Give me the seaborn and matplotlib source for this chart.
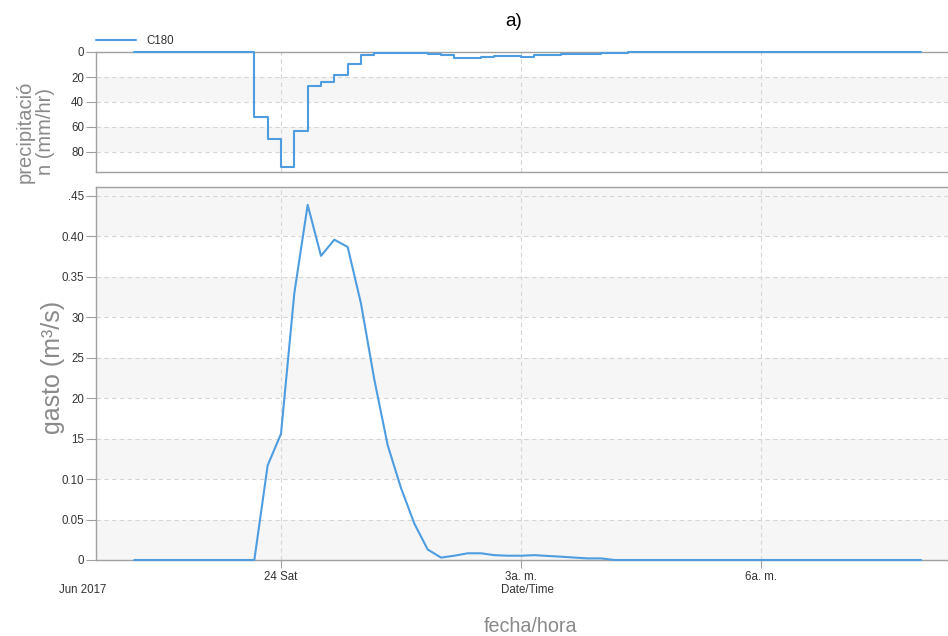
import numpy as np
import pandas as pd
import matplotlib
matplotlib.use("Agg")
import matplotlib.pyplot as plt
import seaborn as sns

# ---------------- data ----------------
# minutes relative to 24 Jun 2017 00:00 (10-minute records)
minutes = list(range(-110, 481, 10))

precip = [0, 0, 0, 0, 0, 0, 0, 0, 0,
          52, 70, 92, 63, 27, 24, 18.4, 9.6, 2.4, 1.1,
          0.8, 0.8, 0.8, 1.6, 2.5, 4.5, 4.5, 3.7, 3.2, 3.2,
          4.0, 2.4, 2.4, 1.6, 1.6, 1.6, 1.0, 1.0,
          0, 0, 0, 0, 0, 0, 0, 0, 0, 0, 0, 0, 0, 0, 0, 0, 0, 0, 0, 0, 0, 0, 0]

flow = [0, 0, 0, 0, 0, 0, 0, 0, 0, 0,
        0.117, 0.156, 0.330, 0.439, 0.376, 0.396, 0.387, 0.317, 0.223,
        0.142, 0.089, 0.045, 0.013, 0.003, 0.0053, 0.0083, 0.0083, 0.006,
        0.0053, 0.0053, 0.006, 0.005, 0.0041, 0.003, 0.002, 0.002,
        0, 0, 0, 0, 0, 0, 0, 0, 0, 0, 0, 0, 0, 0, 0, 0, 0, 0, 0, 0, 0, 0, 0, 0]

series_name = "C180"
x_tick_hours = [0, 3, 6]
x_tick_labels = ["24 Sat", "3a. m.", "6a. m."]
p_ticks = [0, 20, 40, 60, 80]
q_ticks = [0, 0.05, 0.10, 0.15, 0.20, 0.25, 0.30, 0.35, 0.40, 0.45]
q_tick_labels = ["0", "0.05", "0.10", "15", "20", "25", "30", "0.35", "0.40", ".45"]

df = pd.DataFrame({"hours": np.array(minutes) / 60.0, "precip": precip, "flow": flow})

# ---------------- style ----------------
sns.set_style("white")
plt.rcParams["font.family"] = ["Liberation Sans", "DejaVu Sans"]

LINE = "#4d9de0"
GRID = "#d6d6d6"
BAND = "#f6f6f6"
SPINE = "#a0a0a0"
TICKC = "#333333"
LABC = "#8a8a8a"

W, H = 948, 636
fig = plt.figure(figsize=(W / 100, H / 100), dpi=100)

def fx(px):
    return px / W

def fy(py):
    return 1 - py / H

left, right = 96, 948
ax_p = fig.add_axes([fx(left), fy(172), fx(right - left), fy(52) - fy(172)])
ax_q = fig.add_axes([fx(left), fy(560), fx(right - left), fy(187) - fy(560)])

xlim = ((96 - 281) / 80.0, (948 - 281) / 80.0)

# ---- precipitation panel ----
for lo, hi in [(20, 40), (60, 80)]:
    ax_p.axhspan(lo, hi, color=BAND, zorder=0, lw=0)
sns.lineplot(data=df, x="hours", y="precip", ax=ax_p, color=LINE, lw=1.5,
             drawstyle="steps-post", label=series_name, legend=False, zorder=3,
             clip_on=False)
ax_p.set_xlim(*xlim)
ax_p.set_ylim(96, 0)
ax_p.set_yticks(p_ticks)
ax_p.set_yticklabels([str(v) for v in p_ticks])
ax_p.set_xticks(x_tick_hours)
ax_p.set_xticklabels([])
ax_p.tick_params(axis="x", length=0)
for v in p_ticks[1:]:
    ax_p.axhline(v, color=GRID, lw=0.8, ls=(0, (4, 3)), zorder=1)
for v in x_tick_hours:
    ax_p.axvline(v, color=GRID, lw=0.8, ls=(0, (4, 3)), zorder=1)
ax_p.set_xlabel("")
ax_p.set_ylabel("")

# ---- flow panel ----
for lo, hi in [(0, 0.05), (0.10, 0.15), (0.20, 0.25), (0.30, 0.35), (0.40, 0.45), (0.45, 0.5)]:
    ax_q.axhspan(lo, hi, color=BAND, zorder=0, lw=0)
sns.lineplot(data=df, x="hours", y="flow", ax=ax_q, color=LINE, lw=1.5,
             legend=False, zorder=3, clip_on=False)
ax_q.set_xlim(*xlim)
ax_q.set_ylim(0, (560 - 187) / (364 / 0.45))
ax_q.set_yticks(q_ticks)
ax_q.set_yticklabels(q_tick_labels)
ax_q.set_xticks(x_tick_hours)
ax_q.set_xticklabels(x_tick_labels)
for v in q_ticks[1:]:
    ax_q.axhline(v, color=GRID, lw=0.8, ls=(0, (4, 3)), zorder=1)
for v in x_tick_hours:
    ax_q.axvline(v, color=GRID, lw=0.8, ls=(0, (4, 3)), zorder=1)
ax_q.set_xlabel("")
ax_q.set_ylabel("")

for ax in (ax_p, ax_q):
    ax.set_facecolor("white")
    for s in ["top", "bottom", "left"]:
        ax.spines[s].set_color(SPINE)
        ax.spines[s].set_linewidth(1.0)
        ax.spines[s].set_zorder(2)
    ax.spines["right"].set_visible(False)
    ax.tick_params(axis="y", length=7, width=0.8, color=SPINE, pad=1.5,
                   labelsize=8.3, labelcolor=TICKC, left=True)
ax_q.tick_params(axis="x", length=6, width=0.8, color=SPINE, pad=2,
                 labelsize=8.3, labelcolor=TICKC, bottom=True)

# ---- legend ----
handles, labels = ax_p.get_legend_handles_labels()
fig.legend(handles, labels, loc="center left", bbox_to_anchor=(fx(96), fy(41)),
           frameon=False, fontsize=8.3, handlelength=3.5, handletextpad=0.9,
           borderpad=0, borderaxespad=0, labelcolor=TICKC)

# ---- texts ----
fig.text(fx(514), fy(22), "a)", ha="center", va="center", fontsize=13.5, color="black")
fig.text(fx(35), fy(132), "precipitació\nn (mm/hr)", rotation=90, ha="center", va="center",
         fontsize=14.5, color=LABC, linespacing=1.1, multialignment="center")
fig.text(fx(53), fy(367), "gasto (m³/s)", rotation=90, ha="center", va="center",
         fontsize=18, color=LABC)
fig.text(fx(83), fy(590), "Jun 2017", ha="center", va="center", fontsize=8.3, color=TICKC)
fig.text(fx(527), fy(590), "Date/Time", ha="center", va="center", fontsize=8.3, color=TICKC)
fig.text(fx(530), fy(626), "fecha/hora", ha="center", va="center", fontsize=14.2, color=LABC)

fig.savefig("out.png", dpi=100)
